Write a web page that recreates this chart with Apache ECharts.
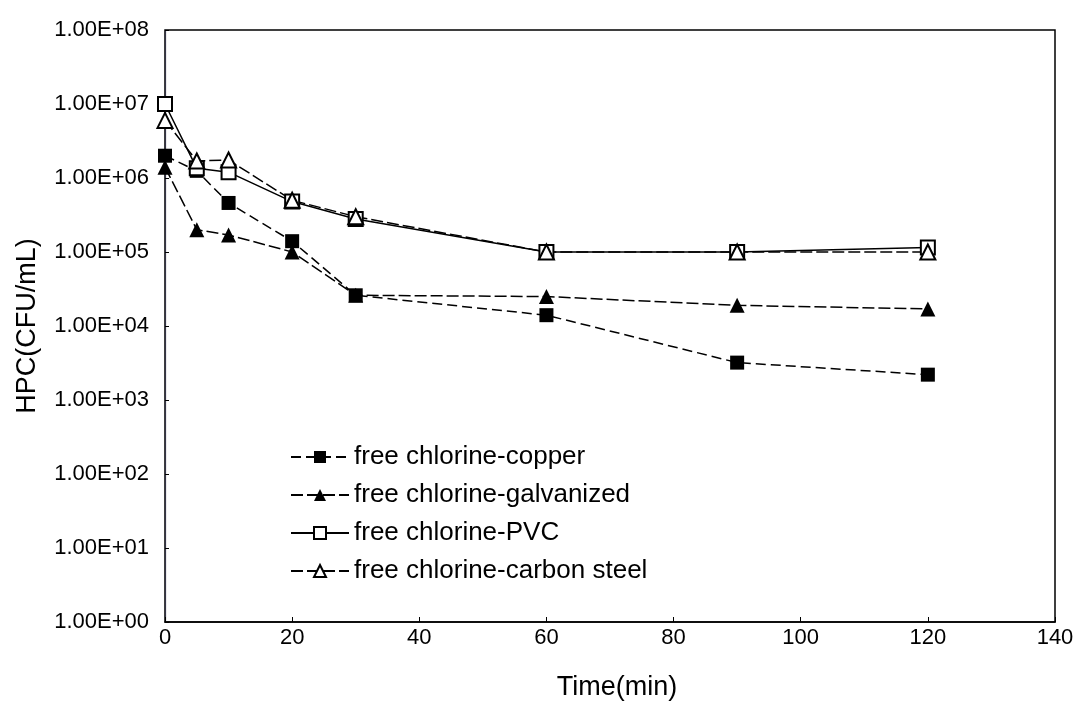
<!DOCTYPE html>
<html>
<head>
<meta charset="utf-8">
<script src="https://cdn.jsdelivr.net/npm/echarts@6/dist/echarts.min.js"></script>
<style>
  html, body { margin: 0; padding: 0; background: #fff; }
  #chart { width: 1079px; height: 711px; }
</style>
</head>
<body>
<div id="chart"></div>
<script>
// time points (min)
const times = [0, 5, 10, 20, 30, 60, 90, 120];

// HPC (CFU/mL)
const copper = [2.0e6, 1.25e6, 4.6e5, 1.4e5, 2.6e4, 1.4e4, 3.2e3, 2.2e3];
const galvanized = [1.4e6, 2.0e5, 1.7e5, 1.0e5, 2.6e4, 2.5e4, 1.9e4, 1.7e4];
const pvc = [1.0e7, 1.35e6, 1.2e6, 4.8e5, 2.8e5, 1.0e5, 1.0e5, 1.15e5];
const carbonSteel = [6.0e6, 1.7e6, 1.75e6, 5.0e5, 3.0e5, 1.0e5, 1.0e5, 1.0e5];

const seriesNames = [
  "free chlorine-copper",
  "free chlorine-galvanized",
  "free chlorine-PVC",
  "free chlorine-carbon steel"
];

const pairs = (ys) => times.map((t, i) => [t, ys[i]]);

const fmtY = (v) => {
  const e = Math.round(Math.log10(v));
  return "1.00E+" + String(e).padStart(2, "0");
};

const font = "Liberation Sans, Arial, sans-serif";

const chart = echarts.init(document.getElementById("chart"));

const option = {
  backgroundColor: "#fff",
  animation: false,
  textStyle: { fontFamily: font, color: "#000" },
  grid: {
    left: 165, right: 24, top: 30, bottom: 89,
    show: true, borderColor: "#000", borderWidth: 1.5
  },
  legend: {
    orient: "vertical",
    left: 285,
    top: 439,
    itemWidth: 58,
    itemHeight: 15,
    itemGap: 12,
    textStyle: { fontSize: 26, fontFamily: font, color: "#000" },
    data: seriesNames
  },
  xAxis: {
    type: "value",
    min: 0,
    max: 140,
    interval: 20,
    name: "Time(min)",
    nameLocation: "middle",
    nameGap: 52,
    nameTextStyle: { fontSize: 27, fontFamily: font, color: "#000", padding: [0, 0, 0, 14] },
    axisLine: { lineStyle: { color: "#000", width: 1.5 } },
    axisTick: { inside: true, length: 5, lineStyle: { color: "#000" } },
    axisLabel: { fontSize: 22, margin: 5, color: "#000", fontFamily: font },
    splitLine: { show: false }
  },
  yAxis: {
    type: "log",
    logBase: 10,
    min: 1,
    max: 1e8,
    name: "HPC(CFU/mL)",
    nameLocation: "middle",
    nameGap: 124,
    nameTextStyle: { fontSize: 27, fontFamily: font, color: "#000" },
    axisLine: { show: true, lineStyle: { color: "#334", width: 1.2 } },
    axisTick: { inside: true, length: 4, lineStyle: { color: "#000" } },
    axisLabel: { fontSize: 22, margin: 16, color: "#000", fontFamily: font, formatter: fmtY },
    splitLine: { show: false }
  },
  series: [
    {
      name: seriesNames[0],
      type: "line",
      data: pairs(copper),
      symbol: "rect",
      symbolSize: 14,
      itemStyle: { color: "#000" },
      lineStyle: { color: "#000", width: 1.5, type: [10, 5] }
    },
    {
      name: seriesNames[1],
      type: "line",
      data: pairs(galvanized),
      symbol: "triangle",
      symbolSize: 15,
      itemStyle: { color: "#000" },
      lineStyle: { color: "#000", width: 1.5, type: [12, 4] }
    },
    {
      name: seriesNames[2],
      type: "line",
      data: pairs(pvc),
      symbol: "emptyRect",
      symbolSize: 14,
      itemStyle: { color: "#000", borderWidth: 2 },
      lineStyle: { color: "#000", width: 1.5 }
    },
    {
      name: seriesNames[3],
      type: "line",
      data: pairs(carbonSteel),
      symbol: "emptyTriangle",
      symbolSize: 15,
      itemStyle: { color: "#000", borderWidth: 2 },
      lineStyle: { color: "#000", width: 1.5, type: [12, 4] }
    }
  ]
};

chart.setOption(option);
</script>
</body>
</html>
